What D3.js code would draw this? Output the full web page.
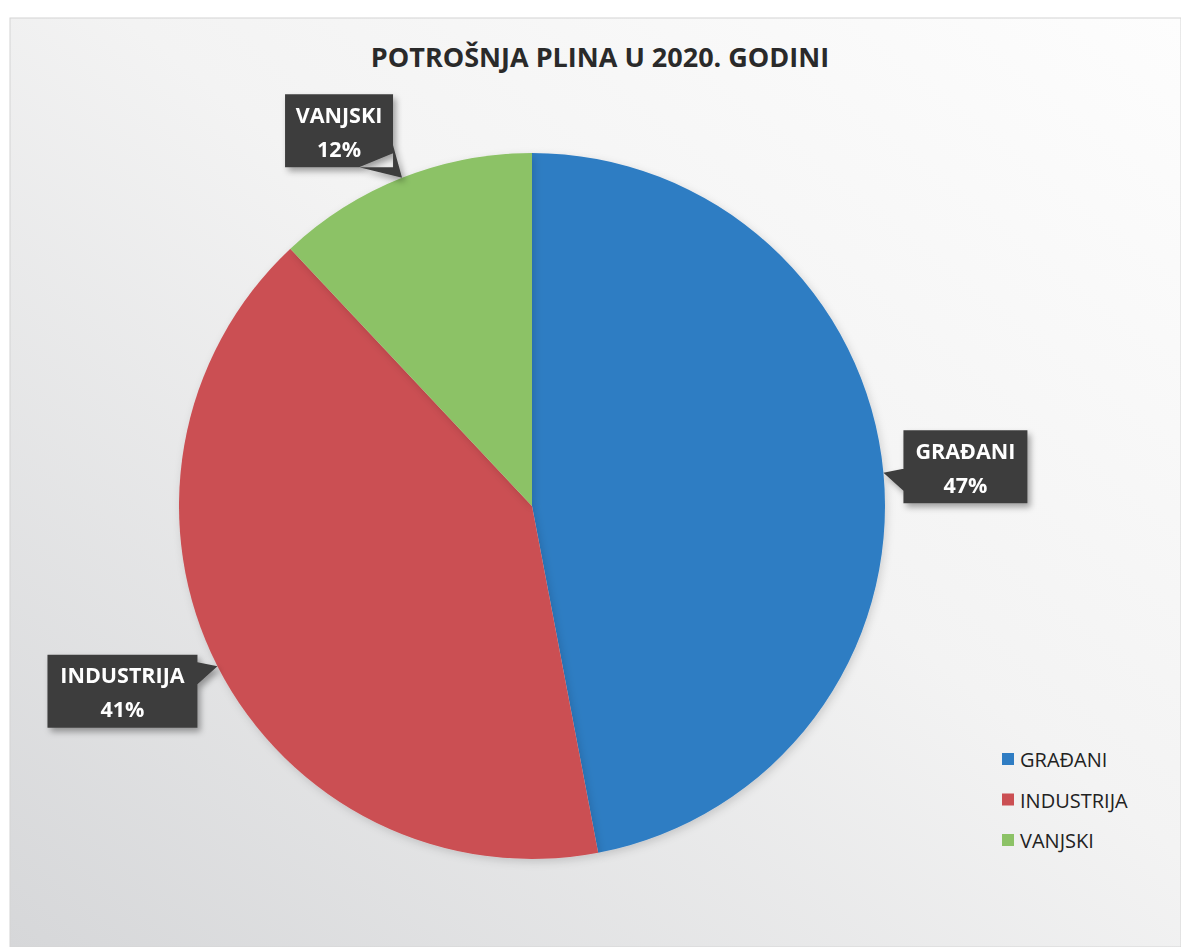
<!DOCTYPE html>
<html>
<head>
    <meta charset="utf-8">
    <title>Potrošnja plina u 2020. godini</title>
    <script src="https://d3js.org/d3.v7.min.js"></script>
    <style>
      body { margin: 0; background: #fff; }
      svg { font-family: "Open Sans", sans-serif; }
      .callout text { fill: #fff; font-weight: bold; font-size: 21.5px; }
      .legend text { fill: #222; font-size: 20px; }
    </style>
</head>
<body>
<svg width="1181" height="947"></svg>
<script>
      // data
      const categories = ["GRAĐANI", "INDUSTRIJA", "VANJSKI"];
      const shares = [47, 41, 12];
      const colors = ["#2f7dc3", "#cb4f53", "#8cc266"];

      const width = 1181, height = 947;
      const cx = 532, cy = 506, radius = 353;

      // callout box offset (box centre relative to the pointer tip), per slice
      const calloutOffset = { "GRAĐANI": [82, -6], "INDUSTRIJA": [-95, 25], "VANJSKI": [-63, -47] };
      const boxW = { "GRAĐANI": 124, "INDUSTRIJA": 150, "VANJSKI": 108 };
      const boxH = 73;

      const svg = d3.select("svg");
      const defs = svg.append("defs");

      const grad = defs.append("linearGradient")
        .attr("id", "bg")
        .attr("x1", "1").attr("y1", "0")
        .attr("x2", "0").attr("y2", "1");
      grad.append("stop").attr("offset", "0%").attr("stop-color", "#fdfdfd");
      grad.append("stop").attr("offset", "45%").attr("stop-color", "#f3f3f3");
      grad.append("stop").attr("offset", "100%").attr("stop-color", "#d6d7d9");

      const shadow = defs.append("filter").attr("id", "shadow")
        .attr("x", "-20%").attr("y", "-20%").attr("width", "150%").attr("height", "150%");
      shadow.append("feDropShadow")
        .attr("dx", 3).attr("dy", 4).attr("stdDeviation", 3)
        .attr("flood-color", "#000").attr("flood-opacity", 0.35);

      const pieShadow = defs.append("filter").attr("id", "pieShadow")
        .attr("x", "-10%").attr("y", "-10%").attr("width", "120%").attr("height", "120%");
      pieShadow.append("feDropShadow")
        .attr("dx", 2).attr("dy", 3).attr("stdDeviation", 4)
        .attr("flood-color", "#000").attr("flood-opacity", 0.15);

      svg.append("rect")
        .attr("x", 10).attr("y", 18)
        .attr("width", width - 10).attr("height", height - 18)
        .attr("fill", "url(#bg)")
        .attr("stroke", "#d4d4d4");

      svg.append("text")
        .attr("x", 600).attr("y", 67)
        .attr("text-anchor", "middle")
        .style("font-size", "27px")
        .style("font-weight", "bold")
        .attr("fill", "#2a2a2a")
        .text("POTROŠNJA PLINA U 2020. GODINI");

      const data = categories.map((c, i) => ({ name: c, value: shares[i], color: colors[i] }));

      const pie = d3.pie().sort(null).value(d => d.value);
      const arcs = pie(data);
      const arc = d3.arc().innerRadius(0).outerRadius(radius);

      const g = svg.append("g").attr("transform", `translate(${cx},${cy})`);

      g.selectAll("path.slice")
        .data(arcs)
        .join("path")
        .attr("class", "slice")
        .attr("d", arc)
        .attr("fill", d => d.data.color)
        .attr("filter", "url(#pieShadow)");

      // callouts
      const callout = svg.selectAll(".callout")
        .data(arcs)
        .join("g")
        .attr("class", "callout")
        .attr("filter", "url(#shadow)");

      callout.append("path")
        .attr("fill", "#3d3d3d")
        .attr("d", d => {
          const a = (d.startAngle + d.endAngle) / 2;
          const tx = cx + radius * Math.sin(a), ty = cy - radius * Math.cos(a);
          const off = calloutOffset[d.data.name];
          const w = boxW[d.data.name];
          const x0 = tx + off[0] - w / 2, y0 = ty + off[1] - boxH / 2;
          const x1 = x0 + w, y1 = y0 + boxH;
          const p = d3.path();
          p.rect(x0, y0, w, boxH);
          // wedge from nearest box edge to tip
          const nx = Math.max(x0, Math.min(x1, tx)), ny = Math.max(y0, Math.min(y1, ty));
          p.moveTo(tx, ty);
          if (nx === x0 || nx === x1) {
            const by = Math.max(y0, Math.min(y1 - 22, ny - 4));
            p.lineTo(nx, by); p.lineTo(nx, by + 22);
          } else {
            const bx = Math.max(x0, Math.min(x1 - 22, nx - 4));
            p.lineTo(bx, ny); p.lineTo(bx + 22, ny);
          }
          if (nx !== tx && ny !== ty && (nx === x1 || nx === x0) && (ny === y1 || ny === y0)) {
            // corner: wedge hugging both sides
            p.moveTo(tx, ty);
            p.lineTo(nx, ny - (ny === y1 ? 14 : -14));
            p.lineTo(nx - (nx === x1 ? 34 : -34), ny);
          }
          p.closePath();
          return p.toString();
        });

      callout.append("text")
        .attr("text-anchor", "middle")
        .each(function(d) {
          const a = (d.startAngle + d.endAngle) / 2;
          const tx = cx + radius * Math.sin(a), ty = cy - radius * Math.cos(a);
          const off = calloutOffset[d.data.name];
          const x = tx + off[0], y = ty + off[1];
          const t = d3.select(this);
          t.append("tspan").attr("x", x).attr("y", y - 8).text(d.data.name);
          t.append("tspan").attr("x", x).attr("y", y + 26).text(d.data.value + "%");
        });

      // legend
      const legend = svg.selectAll(".legend")
        .data(data)
        .join("g")
        .attr("class", "legend")
        .attr("transform", (d, i) => `translate(1002, ${760 + i * 40.5})`);

      legend.append("rect")
        .attr("x", 0).attr("y", -7)
        .attr("width", 12).attr("height", 12)
        .attr("fill", d => d.color);

      legend.append("text")
        .attr("x", 18)
        .attr("y", 0)
        .attr("dy", "0.35em")
        .text(d => d.name);
</script>
</body>
</html>
